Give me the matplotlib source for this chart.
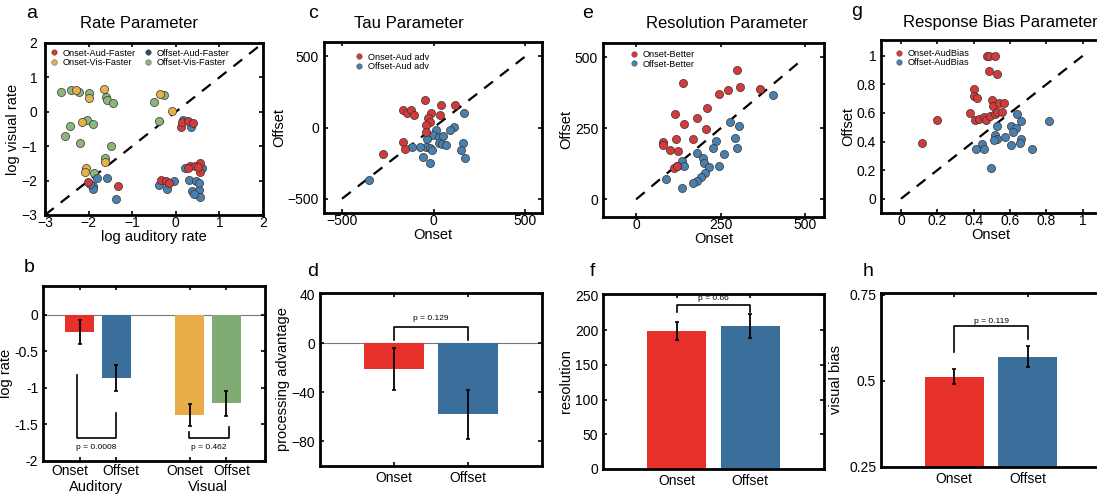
import numpy as np
import matplotlib
matplotlib.use('Agg')
import matplotlib.pyplot as plt

plt.rcParams['font.family'] = ['Liberation Sans', 'DejaVu Sans']

W, H = 1097, 495

# ---- panel a: rate parameter (log auditory rate, log visual rate) ----
a_onset_aud_x = [0.12, 0.15, 0.27, 0.39, -1.33, -2.01, -0.35, -0.23, -0.16, 0.32, 0.43, 0.56, 0.56, 0.27, 0.50]
a_onset_aud_y = [-0.44, -0.31, -0.28, -0.33, -2.17, -2.05, -1.98, -2.01, -2.07, -1.59, -1.57, -1.49, -1.76, -1.62, -1.60]
a_offset_aud_x = [0.17, 0.36, -1.91, -1.89, -1.97, -1.80, -1.58, -1.38, -0.38, -0.21, -0.03, 0.21, 0.61,
                  0.30, 0.46, 0.37, 0.49, 0.54, 0.56, 0.53, 0.42]
a_offset_aud_y = [-0.23, -0.44, -2.17, -2.23, -2.11, -1.93, -1.91, -2.53, -2.13, -2.24, -2.02, -1.63, -1.62,
                  -1.97, -2.02, -2.31, -2.38, -2.26, -2.48, -2.07, -2.38]
a_onset_vis_x = [-2.29, -1.64, -1.98, -0.37, -0.09, -2.16, -2.06, -2.09, -1.62]
a_onset_vis_y = [0.64, 0.65, 0.39, 0.52, 0.01, -0.29, -1.64, -1.74, -1.45]
a_offset_vis_x = [-2.64, -2.40, -2.23, -1.99, -1.59, -1.58, -1.44, -0.51, -0.28, -0.38, -2.03, -1.90,
                  -2.43, -2.54, -2.19, -1.49, -1.62, -1.88]
a_offset_vis_y = [0.58, 0.64, 0.57, 0.55, 0.43, 0.35, 0.26, 0.29, 0.50, -0.26, -0.24, -0.36,
                  -0.40, -0.71, -0.91, -1.00, -1.34, -1.78]

# ---- panel c: tau parameter ----
c_onset_x = [-170, -146, -122, -108, -48, 38, 117, -16, -29, -18, -40, 33, -168, -155, -278, -40]
c_onset_y = [122, 99, 122, 90, 190, 157, 160, 99, 69, 42, 16, 85, -100, -151, -188, -35]
c_offset_x = [164, 113, 88, 11, -5, 29, 51, -37, -44, -73, -22, -7, 26, 44, 66, -117, -60, -22,
              160, 148, 173, -352]
c_offset_y = [99, 7, -16, -16, -51, -70, -58, -81, -139, -139, -141, -160, -111, -113, -120, -137,
              -208, -248, -109, -158, -215, -366]

# ---- panel e: resolution parameter ----
e_onset_x = [298, 139, 245, 273, 308, 367, 210, 115, 180, 142, 206, 169, 118, 79, 80, 100, 123, 112, 121]
e_onset_y = [454, 408, 372, 385, 394, 387, 322, 299, 286, 266, 247, 213, 211, 202, 192, 173, 169, 111, 116]
e_offset_x = [404, 279, 304, 236, 294, 300, 227, 260, 181, 198, 201, 216, 245, 205, 191, 181, 169,
              137, 87, 135, 142, 121]
e_offset_y = [366, 272, 258, 206, 217, 182, 179, 159, 164, 146, 128, 114, 119, 93, 79, 65, 59,
              134, 70, 40, 116, 116]

# ---- panel g: response bias parameter ----
g_onset_x = [0.473, 0.484, 0.517, 0.484, 0.528, 0.404, 0.404, 0.418, 0.503, 0.506, 0.539, 0.565,
             0.38, 0.407, 0.431, 0.455, 0.466, 0.49, 0.516, 0.527, 0.558, 0.196, 0.116]
g_onset_y = [1.0, 1.0, 1.0, 0.896, 0.873, 0.764, 0.718, 0.706, 0.688, 0.646, 0.669, 0.669,
             0.6, 0.553, 0.56, 0.569, 0.553, 0.579, 0.59, 0.604, 0.606, 0.553, 0.389]
g_offset_x = [0.816, 0.638, 0.662, 0.527, 0.605, 0.635, 0.616, 0.516, 0.527, 0.51, 0.574, 0.662,
              0.657, 0.605, 0.719, 0.447, 0.413, 0.459, 0.494]
g_offset_y = [0.542, 0.59, 0.546, 0.507, 0.507, 0.495, 0.47, 0.449, 0.421, 0.412, 0.433, 0.421,
              0.389, 0.375, 0.349, 0.384, 0.349, 0.349, 0.215]

# ---- bar panels ----
b_labels = ['Onset', 'Offset', 'Onset', 'Offset']
b_groups = ['Auditory', 'Visual']
b_means = [-0.24, -0.87, -1.37, -1.21]
b_errs = [0.16, 0.18, 0.15, 0.17]
b_pvals = ['p = 0.0008', 'p = 0.462']

d_labels = ['Onset', 'Offset']
d_means = [-21, -58]
d_errs = [17, 20]
d_pval = 'p = 0.129'

f_labels = ['Onset', 'Offset']
f_means = [199, 206]
f_errs = [13, 17]
f_pval = 'p = 0.66'

h_labels = ['Onset', 'Offset']
h_means = [0.512, 0.570]
h_errs = [0.021, 0.030]
h_pval = 'p = 0.119'

RED_PT, BLUE_PT, ORANGE_PT, GREEN_PT = '#d53a3a', '#4a80ad', '#e6b04c', '#8cb67a'
RED_BAR, BLUE_BAR, ORANGE_BAR, GREEN_BAR = '#e8302a', '#3a6f9b', '#e8ad48', '#80ab72'


def add_axes(x0, y0, x1, y1):
    return fig.add_axes([x0 / W, 1 - y1 / H, (x1 - x0) / W, (y1 - y0) / H])


def style(ax):
    for s in ax.spines.values():
        s.set_linewidth(2)
    ax.tick_params(direction='in', top=True, right=True, labelsize=10, length=3, width=1.2)


def scat(ax, x, y, c):
    ax.scatter(x, y, s=34, c=c, edgecolors='#333333', linewidths=0.5, zorder=3)


def legend(ax, entries, ncol=1, anchor=(0.0, 1.0), colsp=1.0):
    handles = [plt.Line2D([], [], ls='', marker='o', ms=4, mfc=c, mec='#444444', mew=0.3, label=l)
               for l, c in entries]
    ax.legend(handles=handles, ncol=ncol, loc='upper left', bbox_to_anchor=anchor, frameon=False,
              fontsize=6.6, handlelength=0.8, handletextpad=0.5, labelspacing=0.05,
              columnspacing=colsp, borderaxespad=0.2)


def scatter_labels(ax, xlab, ylab):
    ax.tick_params(axis='x', pad=0.5)
    ax.set_xlabel(xlab, fontsize=10.5, labelpad=0)
    ax.set_ylabel(ylab, fontsize=10.5, labelpad=1)


fig = plt.figure(figsize=(W / 100, H / 100), dpi=100)

# panel a
ax = add_axes(45, 43, 263, 215)
ax.plot([-3, 2], [-3, 2], color='black', lw=1.6, ls=(0, (5, 4)), zorder=2)
scat(ax, a_offset_vis_x, a_offset_vis_y, GREEN_PT)
scat(ax, a_onset_vis_x, a_onset_vis_y, ORANGE_PT)
scat(ax, a_offset_aud_x, a_offset_aud_y, BLUE_PT)
scat(ax, a_onset_aud_x, a_onset_aud_y, RED_PT)
ax.set_xlim(-3, 2)
ax.set_ylim(-3, 2)
ax.set_xticks(np.arange(-3, 3))
ax.set_yticks(np.arange(-3, 3))
style(ax)
ax.tick_params(axis='y', pad=5.5)
scatter_labels(ax, 'log auditory rate', 'log visual rate')
legend(ax, [('Onset-Aud-Faster', RED_PT), ('Onset-Vis-Faster', ORANGE_PT),
            ('Offset-Aud-Faster', '#3b4868'), ('Offset-Vis-Faster', GREEN_PT)],
       ncol=2, anchor=(0.0, 1.0), colsp=1.0)

# panel c
ax = add_axes(324, 42, 542, 213)
ax.plot([-500, 500], [-500, 500], color='black', lw=1.6, ls=(0, (5, 4)), zorder=2)
scat(ax, c_offset_x, c_offset_y, BLUE_PT)
scat(ax, c_onset_x, c_onset_y, RED_PT)
ax.set_xlim(-598, 590)
ax.set_ylim(-600, 600)
ax.set_xticks([-500, 0, 500])
ax.set_yticks([-500, 0, 500])
style(ax)
scatter_labels(ax, 'Onset', 'Offset')
legend(ax, [('Onset-Aud adv', RED_PT), ('Offset-Aud adv', BLUE_PT)], anchor=(0.12, 0.97))

# panel e
ax = add_axes(603, 43, 824, 217)
ax.plot([0, 490], [0, 490], color='black', lw=1.6, ls=(0, (5, 4)), zorder=2)
scat(ax, e_offset_x, e_offset_y, BLUE_PT)
scat(ax, e_onset_x, e_onset_y, RED_PT)
ax.set_xlim(-98, 556)
ax.set_ylim(-62, 550)
ax.set_xticks([0, 250, 500])
ax.set_yticks([0, 250, 500])
style(ax)
scatter_labels(ax, 'Onset', 'Offset')
legend(ax, [('Onset-Better', RED_PT), ('Offset-Better', BLUE_PT)], anchor=(0.1, 0.99))

# panel g
ax = add_axes(881, 40, 1101, 213)
ax.plot([0, 1], [0, 1], color='black', lw=1.6, ls=(0, (5, 4)), zorder=2)
scat(ax, g_offset_x, g_offset_y, BLUE_PT)
scat(ax, g_onset_x, g_onset_y, RED_PT)
ax.set_xlim(-0.11, 1.1)
ax.set_ylim(-0.1, 1.11)
ax.set_xticks([0, 0.2, 0.4, 0.6, 0.8, 1])
ax.set_xticklabels(['0', '0.2', '0.4', '0.6', '0.8', '1'])
ax.set_yticks([0, 0.2, 0.4, 0.6, 0.8, 1])
ax.set_yticklabels(['0', '0.2', '0.4', '0.6', '0.8', '1'])
style(ax)
scatter_labels(ax, 'Onset', 'Offset')
legend(ax, [('Onset-AudBias', RED_PT), ('Offset-AudBias', BLUE_PT)], anchor=(0.04, 0.98))


def bracket(ax, x0, x1, y, y0, y1, text, ty):
    ax.plot([x0, x0, x1, x1], [y0, y, y, y1], color='black', lw=1.2)
    ax.text((x0 + x1) / 2, ty, text, ha='center', va='center', fontsize=6)


def bars(ax, pos, means, errs, colors):
    ax.bar(pos, means, width=0.8, color=colors, zorder=2)
    ax.errorbar(pos, means, yerr=errs, fmt='none', ecolor='black', elinewidth=1.3, capsize=1.5,
                capthick=1.2, zorder=3)


# panel b
ax = add_axes(43, 286, 265, 461)
pos_b = [1, 2, 4, 5]
ax.axhline(0, color='#777777', lw=0.8, zorder=1)
bars(ax, pos_b, b_means, b_errs, [RED_BAR, BLUE_BAR, ORANGE_BAR, GREEN_BAR])
bracket(ax, 0.92, 2.0, -1.69, -0.82, -1.35, b_pvals[0], -1.81)
bracket(ax, 3.98, 5.07, -1.69, -1.6, -1.54, b_pvals[1], -1.81)
ax.set_xlim(0, 6.05)
ax.set_ylim(-2, 0.39)
ax.set_xticks(pos_b)
ax.set_xticklabels([])
# labels sit slightly outward from the bars, as in the original
ax.set_xticks([0.74, 2.13, 3.87, 5.15], minor=True)
ax.set_xticklabels(b_labels, minor=True)
ax.set_yticks([-2, -1.5, -1, -0.5, 0])
ax.set_yticklabels(['-2', '-1.5', '-1', '-0.5', '0'])
style(ax)
ax.tick_params(axis='x', which='minor', length=0, pad=2, labelsize=10)
ax.set_ylabel('log rate', fontsize=10.5, labelpad=1)
for gx, g in zip([1.45, 4.5], b_groups):
    ax.text(gx, -0.108, g, transform=ax.get_xaxis_transform(), ha='center', va='top', fontsize=10.5)

# panel d
ax = add_axes(320, 293, 542, 466)
ax.axhline(0, color='#777777', lw=0.8, zorder=1)
bars(ax, [1, 2], d_means, d_errs, [RED_BAR, BLUE_BAR])
bracket(ax, 1, 2, 13.5, 2.4, 2.4, d_pval, 20)
ax.set_xlim(0, 3)
ax.set_ylim(-100, 41)
ax.set_xticks([1, 2])
ax.set_xticklabels(d_labels)
ax.set_yticks([-80, -40, 0, 40])
style(ax)
ax.set_ylabel('processing advantage', fontsize=10.5, labelpad=1)

# panel f
ax = add_axes(603, 294, 824, 469)
bars(ax, [1, 2], f_means, f_errs, [RED_BAR, BLUE_BAR])
bracket(ax, 1, 2, 236, 226, 226, f_pval, 246)
ax.set_xlim(0, 3)
ax.set_ylim(0, 252)
ax.set_xticks([1, 2])
ax.set_xticklabels(f_labels)
ax.set_yticks([0, 50, 100, 150, 200, 250])
style(ax)
ax.set_ylabel('resolution', fontsize=10.5, labelpad=1)

# panel h
ax = add_axes(881, 293, 1101, 467)
bars(ax, [1, 2], h_means, h_errs, [RED_BAR, BLUE_BAR])
bracket(ax, 1, 2, 0.659, 0.583, 0.621, h_pval, 0.673)
ax.set_xlim(0, 3)
ax.set_ylim(0.25, 0.755)
ax.set_xticks([1, 2])
ax.set_xticklabels(h_labels)
ax.set_yticks([0.25, 0.5, 0.75])
ax.set_yticklabels(['0.25', '0.5', '0.75'])
style(ax)
ax.set_ylabel('visual bias', fontsize=10.5, labelpad=4)

# titles and panel letters
for x, y, t in [(139, 23, 'Rate Parameter'), (409, 23, 'Tau Parameter'),
                (727, 23, 'Resolution Parameter'), (1000, 22, 'Response Bias Parameter')]:
    fig.text(x / W, 1 - y / H, t, ha='center', va='center', fontsize=12)
for x, y, t in [(32, 14, 'a'), (313, 14, 'c'), (588, 14, 'e'), (857, 12, 'g'),
                (29, 268, 'b'), (313, 272, 'd'), (592, 272, 'f'), (868, 272, 'h')]:
    fig.text(x / W, 1 - y / H, t, ha='center', va='center', fontsize=14)

fig.savefig('out.png', dpi=100)
